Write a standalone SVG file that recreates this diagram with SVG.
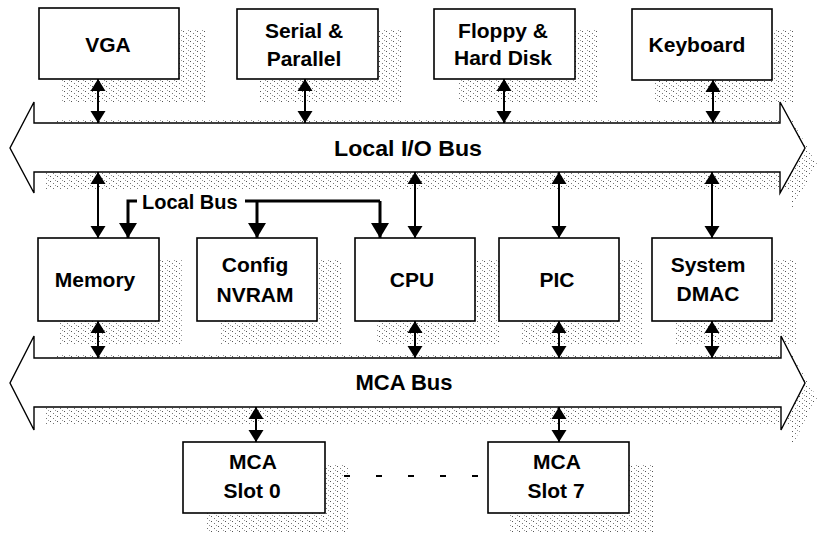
<svg xmlns="http://www.w3.org/2000/svg" width="818" height="535" viewBox="0 0 818 535">
<style>
.box{fill:#fff;stroke:#000;stroke-width:1.6}
.bus{fill:#fff;stroke:#000;stroke-width:1.4}
.sh{fill:url(#dots);stroke:none}
.t{font-family:"Liberation Sans",Arial,sans-serif;font-weight:bold;font-size:21px;text-anchor:middle;fill:#000}
.bt{font-size:22px}
.lt{font-size:20px;text-anchor:start}
.bi{stroke:#000;stroke-width:2;fill:none;marker-start:url(#ah);marker-end:url(#ah)}
.lb{stroke:#000;stroke-width:3;fill:none}
.lbh{stroke:#000;stroke-width:3;fill:none;marker-end:url(#big)}
.dash{stroke:#000;stroke-width:2;stroke-dasharray:6 26}
</style>
<defs>
<pattern id="dots" width="7" height="5" patternUnits="userSpaceOnUse">
<rect x="1" y="1" width="1" height="1" fill="#555"/>
<rect x="4" y="3" width="1" height="1" fill="#777"/>
<rect x="6" y="0" width="1" height="1" fill="#999"/>
</pattern>
<marker id="ah" viewBox="0 0 12 15" refX="12" refY="7.5" markerWidth="12" markerHeight="15" markerUnits="userSpaceOnUse" orient="auto-start-reverse" overflow="visible">
<path d="M0,0 L12,7.5 L0,15 z" fill="#000"/>
</marker>
<marker id="big" viewBox="0 0 15 18" refX="15" refY="9" markerWidth="15" markerHeight="18" markerUnits="userSpaceOnUse" orient="auto" overflow="visible">
<path d="M0,0 L15,9 L0,18 z" fill="#000"/>
</marker>
</defs>

<g id="shadows">
<rect class="sh" x="62" y="30" width="143" height="72"/>
<rect class="sh" x="260" y="30" width="142" height="72"/>
<rect class="sh" x="457" y="30" width="142" height="72"/>
<rect class="sh" x="655" y="30" width="140" height="72"/>
<path class="sh" d="M46,140 L58,119 L792,119 L792,120 L817,164 L792,208 L792,190 L46,190 z"/>
<rect class="sh" x="60" y="260" width="123" height="84"/>
<rect class="sh" x="219" y="260" width="122" height="84"/>
<rect class="sh" x="377" y="260" width="122" height="84"/>
<rect class="sh" x="521" y="260" width="122" height="84"/>
<rect class="sh" x="674" y="260" width="122" height="84"/>
<path class="sh" d="M46,380 L58,354 L792,354 L817,398 L792,446 L792,425 L46,425 z"/>
<rect class="sh" x="205" y="464" width="143" height="68"/>
<rect class="sh" x="510" y="464" width="143" height="68"/>
</g>

<g id="local-io-bus">
<path class="bus" d="M34,123 L780,123 L780,102 L805,148 L780,193 L780,172 L34,172 L34,193 L10,148 L34,102 z"/>
<text class="t bt" x="408" y="156" textLength="148" lengthAdjust="spacingAndGlyphs">Local I/O Bus</text>
</g>
<g id="mca-bus">
<path class="bus" d="M34,358 L781,358 L781,336 L805,383 L781,430 L781,407 L34,407 L34,430 L10,383 L34,336 z"/>
<text class="t bt" x="404" y="390">MCA Bus</text>
</g>

<g id="vga"><rect class="box" x="39" y="8" width="140" height="71"/><text class="t" x="108" y="52">VGA</text></g>
<g id="serial"><rect class="box" x="237" y="9" width="141" height="70"/><text class="t" x="304" y="38">Serial &amp;</text><text class="t" x="304" y="66">Parallel</text></g>
<g id="floppy"><rect class="box" x="434" y="9" width="141" height="70"/><text class="t" x="503" y="38">Floppy &amp;</text><text class="t" x="503" y="65">Hard Disk</text></g>
<g id="keyboard"><rect class="box" x="632" y="9" width="140" height="71"/><text class="t" x="697" y="52">Keyboard</text></g>

<g id="memory"><rect class="box" x="38" y="238" width="121" height="83"/><text class="t" x="95" y="287">Memory</text></g>
<g id="config"><rect class="box" x="197" y="238" width="120" height="83"/><text class="t" x="255" y="272">Config</text><text class="t" x="255" y="302">NVRAM</text></g>
<g id="cpu"><rect class="box" x="355" y="238" width="120" height="83"/><text class="t" x="412" y="287">CPU</text></g>
<g id="pic"><rect class="box" x="499" y="238" width="120" height="83"/><text class="t" x="557" y="287">PIC</text></g>
<g id="dmac"><rect class="box" x="652" y="238" width="120" height="83"/><text class="t" x="708" y="272">System</text><text class="t" x="708" y="301">DMAC</text></g>

<g id="slot0"><rect class="box" x="183" y="442" width="142" height="71"/><text class="t" x="253" y="469">MCA</text><text class="t" x="252" y="498">Slot 0</text></g>
<g id="slot7"><rect class="box" x="488" y="442" width="141" height="71"/><text class="t" x="557" y="469">MCA</text><text class="t" x="556" y="498">Slot 7</text></g>

<g id="connectors">
<line class="bi" x1="98" y1="79" x2="98" y2="123"/>
<line class="bi" x1="305" y1="79" x2="305" y2="123"/>
<line class="bi" x1="504" y1="79" x2="504" y2="123"/>
<line class="bi" x1="713" y1="80" x2="713" y2="123"/>

<line class="bi" x1="98" y1="172" x2="98" y2="238"/>
<line class="bi" x1="415" y1="172" x2="415" y2="238"/>
<line class="bi" x1="559" y1="172" x2="559" y2="238"/>
<line class="bi" x1="712" y1="172" x2="712" y2="238"/>

<line class="bi" x1="98" y1="321" x2="98" y2="358"/>
<line class="bi" x1="415" y1="321" x2="415" y2="358"/>
<line class="bi" x1="559" y1="321" x2="559" y2="358"/>
<line class="bi" x1="712" y1="321" x2="712" y2="358"/>

<line class="bi" x1="256" y1="407" x2="256" y2="442"/>
<line class="bi" x1="559" y1="407" x2="559" y2="442"/>

<path class="lbh" d="M137,201 L128,201 L128,238"/>
<path class="lb" d="M245,201 L380,201"/>
<path class="lbh" d="M257,201 L257,238"/>
<path class="lbh" d="M380,201 L380,238"/>
<text class="t lt" x="142" y="209">Local Bus</text>

<line class="dash" x1="344" y1="476" x2="480" y2="476"/>
</g>
</svg>
